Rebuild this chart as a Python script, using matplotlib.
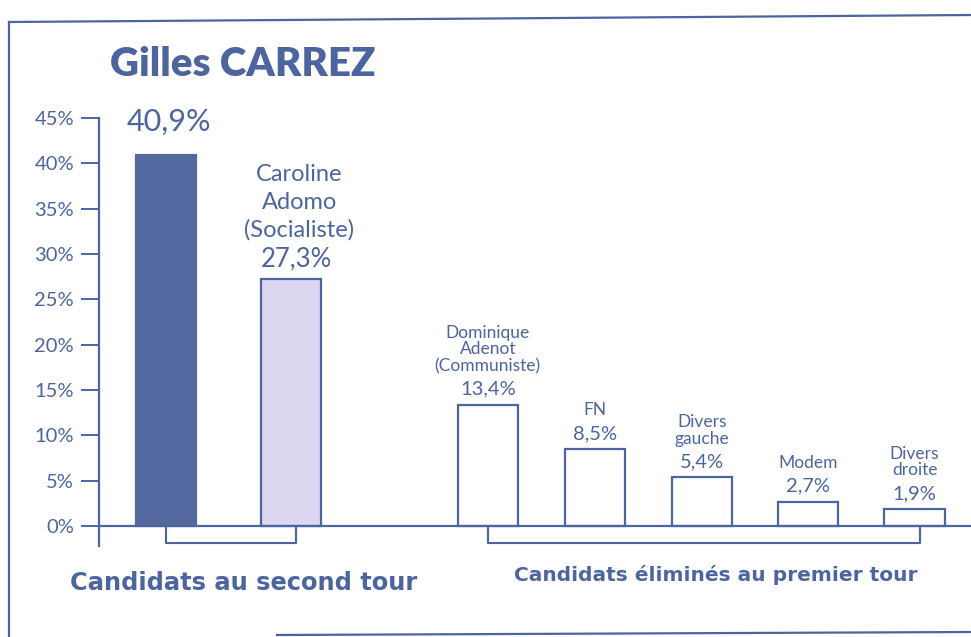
import matplotlib
matplotlib.use("Agg")
import matplotlib.pyplot as plt
from matplotlib.lines import Line2D

plt.rcParams['font.family'] = ['Lato', 'DejaVu Sans']

# ---- data ----
candidates = ["Gilles CARREZ", "Caroline\nAdomo\n(Socialiste)", "Dominique\nAdenot\n(Communiste)",
              "FN", "Divers\ngauche", "Modem", "Divers\ndroite"]
values = [40.9, 27.3, 13.4, 8.5, 5.4, 2.7, 1.9]
yticks = [0, 5, 10, 15, 20, 25, 30, 35, 40, 45]
ytick_labels = ["0%", "5%", "10%", "15%", "20%", "25%", "30%", "35%", "40%", "45%"]
group_labels = ["Candidats au second tour", "Candidats éliminés au premier tour"]

# ---- layout ----
positions = [0, 1.17, 3.02, 4.03, 5.03, 6.03, 7.03]
bar_width = 0.566
BLUE = "#4c65a1"
DARK = "#53699f"
LAV = "#dcd6f1"

W, H = 971, 637
fig = plt.figure(figsize=(W / 100, H / 100), dpi=100)
ax = fig.add_axes([99 / W, 1 - 546 / H, 1 - 99 / W, (546 - 118) / H])

fills = [DARK, LAV] + ["white"] * 5
edges = [DARK, BLUE] + [BLUE] * 5
ax.bar(positions, values, width=bar_width, color=fills, edgecolor=edges, linewidth=1.6, zorder=3)

ax.set_xlim(-0.632, 7.56)
ax.set_ylim(-2.2, 45)
ax.set_yticks(yticks)
ax.set_yticklabels(ytick_labels)
ax.tick_params(axis='y', direction='out', length=13, width=1.4, color=BLUE,
               labelcolor=BLUE, labelsize=14.5, pad=5)
ax.set_xticks([])
for s in ["top", "right", "bottom"]:
    ax.spines[s].set_visible(False)
ax.spines["left"].set_color(BLUE)
ax.spines["left"].set_linewidth(1.6)
ax.axhline(0, color=BLUE, lw=1.6, zorder=4)

# value & name labels
for i, (p, v, name) in enumerate(zip(positions, values, candidates)):
    vtxt = f"{v:.1f}".replace(".", ",") + "%"
    if i == 0:
        ax.annotate(vtxt, (p, v), xytext=(2, 14), textcoords="offset points",
                    ha="center", va="bottom", fontsize=22, color=BLUE)
    elif i == 1:
        ax.annotate(vtxt, (p, v), xytext=(4, 5), textcoords="offset points",
                    ha="center", va="bottom", fontsize=18.5, color=BLUE)
        ax.annotate(name, (p, v), xytext=(6, 27), textcoords="offset points",
                    ha="center", va="bottom", fontsize=17, color=BLUE, linespacing=1.38)
    else:
        ax.annotate(vtxt, (p, v), xytext=(0, 5), textcoords="offset points",
                    ha="center", va="bottom", fontsize=14.5, color=BLUE)
        ax.annotate(name, (p, v), xytext=(0, 22), textcoords="offset points",
                    ha="center", va="bottom", fontsize=12.5, color=BLUE, linespacing=1.05)

# brackets
def bracket(x0, x1, depth=-1.9):
    ax.plot([x0, x0, x1, x1], [0, depth, depth, 0], color=BLUE, lw=1.5,
            clip_on=False, zorder=2)

bracket(positions[0], positions[1] + 0.05)
bracket(positions[2], positions[6] + 0.05)

# title and group labels
fig.text(110 / W, 1 - 65 / H, candidates[0], ha="left", va="center",
         fontsize=29, fontweight="heavy", color=BLUE)
fig.text(70 / W, 1 - 583 / H, group_labels[0], ha="left", va="center",
         fontsize=17.4, fontweight="bold", color=BLUE, family="DejaVu Sans")
fig.text(716 / W, 1 - 575 / H, group_labels[1], ha="center", va="center",
         fontsize=14.5, fontweight="bold", color=BLUE, family="DejaVu Sans")

# frame of the scanned page
def fline(x0, y0, x1, y1):
    fig.add_artist(Line2D([x0 / W, x1 / W], [1 - y0 / H, 1 - y1 / H],
                          transform=fig.transFigure, color=BLUE, lw=1.6))

fline(9, 22, 9, 637)
fline(9, 22, 971, 15)
fline(277, 635, 971, 632)

fig.savefig("out.png", dpi=100)
